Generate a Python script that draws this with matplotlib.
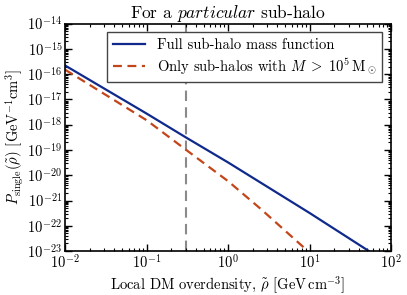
import numpy as np
import matplotlib
matplotlib.use('Agg')
import matplotlib.pyplot as plt

plt.rcParams['font.family'] = 'serif'
plt.rcParams['font.serif'] = ['cmr10', 'DejaVu Serif']
plt.rcParams['mathtext.fontset'] = 'cm'
plt.rcParams['axes.formatter.use_mathtext'] = True
plt.rcParams['axes.unicode_minus'] = False

# values (rho in GeV cm^-3, P in GeV^-1 cm^3)
rho_full = [0.01, 0.1, 0.3, 1.0, 10.0, 53.3]
P_full = [2.2e-16, 2.75e-18, 3.2e-19, 3.2e-20, 3.2e-22, 1.0e-23]

rho_cut = [0.01, 0.1, 0.3, 1.0, 2.54, 9.5]
P_cut = [1.5e-16, 1.5e-18, 1.05e-19, 5.8e-21, 4.5e-22, 1.0e-23]

rho_mark = 0.3

yticks = [10.0**k for k in range(-23, -13)]
xticks = [1e-2, 1e-1, 1e0, 1e1, 1e2]

fig = plt.figure(figsize=(4.07, 2.95), dpi=100)
ax = fig.add_axes([0.16, 0.149, 0.801, 0.771])

ax.loglog(rho_full, P_full, '-', color='#102a8c', lw=1.6, label='Full sub-halo mass function')
ax.loglog(rho_cut, P_cut, '--', color='#c2461a', lw=1.6, dashes=(4, 2.5),
          label=r'Only sub-halos with $M\;>\;10^5\,\mathrm{M}_\odot$')
ax.axvline(rho_mark, color='#8a8a8a', ls='--', lw=1.5, dashes=(5, 3), zorder=0)

ax.set_xlim(1e-2, 1e2)
ax.set_ylim(1e-23, 1e-14)
ax.set_xticks(xticks)
ax.set_yticks(yticks)
ax.yaxis.set_minor_locator(matplotlib.ticker.LogLocator(base=10, subs=np.arange(2, 10), numticks=20))
ax.yaxis.set_minor_formatter(matplotlib.ticker.NullFormatter())
ax.tick_params(which='both', direction='in', top=True, right=True, labelsize=10.5)
ax.tick_params(which='major', length=5, width=1, pad=2)
ax.tick_params(which='minor', length=2.5, width=0.8)
for s in ax.spines.values():
    s.set_linewidth(1.2)

ax.set_xlabel(r'Local DM overdensity, $\tilde{\rho}$ [GeV$\,$cm$^{-3}$]', fontsize=10.5, labelpad=2)
ax.set_ylabel(r'$P_\mathrm{single}(\tilde{\rho})$ [GeV$^{-1}$cm$^3$]', fontsize=10.5, labelpad=1)
ax.set_title(r'For a $\mathit{particular}$ sub-halo', fontsize=12.5, pad=3)

leg = ax.legend(loc='upper right', fontsize=10.5, fancybox=False, framealpha=1,
                edgecolor='#444444', borderaxespad=0.6, handlelength=2.2, labelspacing=0.3)
leg.get_frame().set_linewidth(1.0)

plt.savefig('out.png', dpi=100)
